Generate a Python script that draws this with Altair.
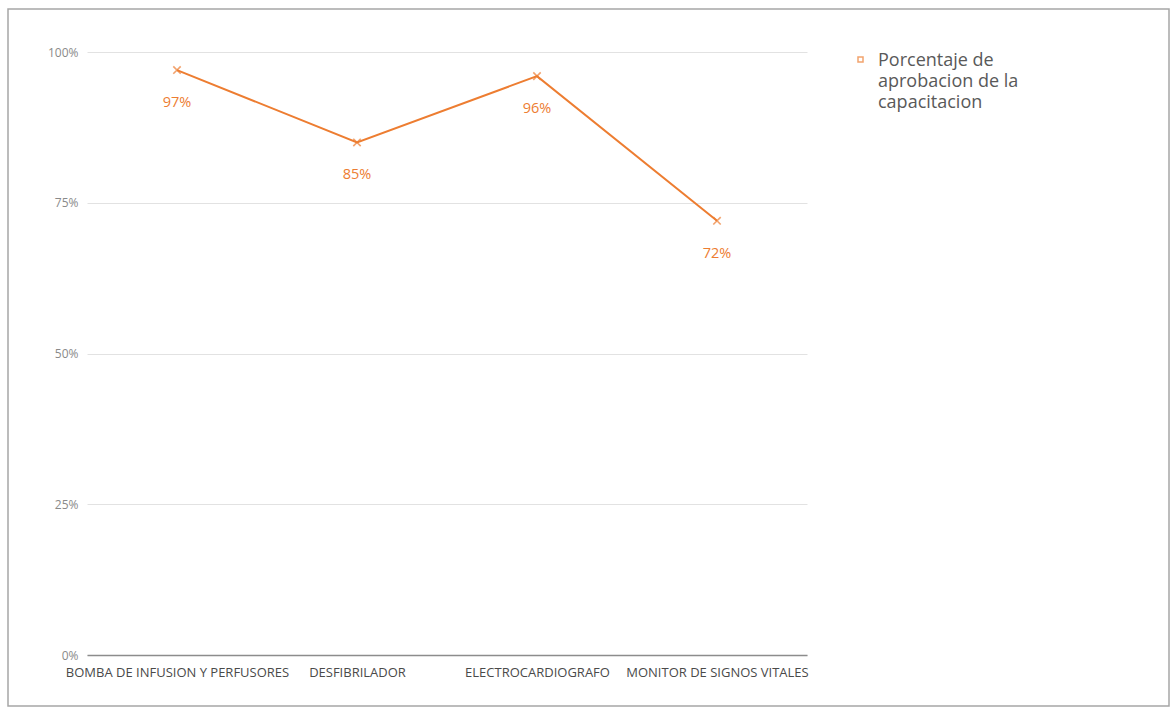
import altair as alt
import pandas as pd

categories = ["BOMBA DE INFUSION Y PERFUSORES", "DESFIBRILADOR",
              "ELECTROCARDIOGRAFO", "MONITOR DE SIGNOS VITALES"]
values = [0.97, 0.85, 0.96, 0.72]
series_name = "Porcentaje de aprobacion de la capacitacion"
legend_lines = "Porcentaje de\naprobacion de la\ncapacitacion"
y_ticks = [0, 0.25, 0.5, 0.75, 1.0]

df = pd.DataFrame({"cat": categories, "val": values, "serie": [series_name] * len(categories)})

ORANGE = "#ED7D31"
FONT = "Open Sans"

x_enc = alt.X("cat:N", sort=categories, title=None,
              scale=alt.Scale(paddingInner=0, paddingOuter=0),
              axis=alt.Axis(labelAngle=0, labelFontSize=13, labelFontWeight="normal",
                            labelColor="#4a4a4a", labelFont=FONT, ticks=False,
                            domain=True, domainColor="#8c8c8c", domainWidth=1.3,
                            labelPadding=11, labelLimit=300, grid=False))
y_enc = alt.Y("val:Q", title=None,
              scale=alt.Scale(domain=[0, 1], nice=False),
              axis=alt.Axis(values=y_ticks, format=".0%", labelFontSize=12,
                            labelColor="#8a8a8a", labelFont=FONT, ticks=False,
                            domain=False, grid=True, gridColor="#e2e2e2",
                            labelPadding=9))

base = alt.Chart(df)

line = base.mark_line(color=ORANGE, strokeWidth=2).encode(x=x_enc, y=y_enc)

points = base.mark_point(shape="M-1,-1L1,1M1,-1L-1,1", filled=False, size=55,
                         strokeWidth=1.6).encode(
    x=x_enc,
    y=y_enc,
    color=alt.Color("serie:N",
                    scale=alt.Scale(range=[ORANGE]),
                    legend=alt.Legend(title=None, orient="none", legendX=770, legendY=4,
                                      symbolType="square", symbolSize=25,
                                      symbolFillColor="#E9A677", symbolStrokeColor="#E9A677",
                                      labelExpr="''", labelFontSize=1)),
)

labels = base.mark_text(color=ORANGE, fontSize=14.5, font=FONT, dy=33,
                        baseline="middle").encode(
    x=x_enc,
    y=y_enc,
    text=alt.Text("val:Q", format=".0%"),
)

legend_text = alt.Chart(pd.DataFrame({"t": [legend_lines]})).mark_text(
    align="left", baseline="alphabetic", fontSize=18, font=FONT, color="#595959",
    lineBreak="\n", lineHeight=21).encode(
    text="t:N", x=alt.value(791), y=alt.value(14))

frame = alt.Chart(pd.DataFrame({"k": [0]})).mark_rect(
    fill=None, stroke="#a6a6a6", strokeWidth=1.5).encode(
    x=alt.value(-79), x2=alt.value(1082), y=alt.value(-43), y2=alt.value(654))

chart = alt.layer(frame, line, points, labels, legend_text,
                  view=alt.ViewBackground(stroke="transparent", strokeWidth=0)).properties(
    width=720, height=603,
    autosize=alt.AutoSizeParams(type="none"),
    padding={"left": 87, "top": 52, "right": 366, "bottom": 54},
).configure_view(stroke="transparent", strokeWidth=0).configure_axisX(grid=False).configure_axisY(domain=False).configure(background="white")

chart.save("out.html", embed_options={"renderer": "svg", "actions": False})
